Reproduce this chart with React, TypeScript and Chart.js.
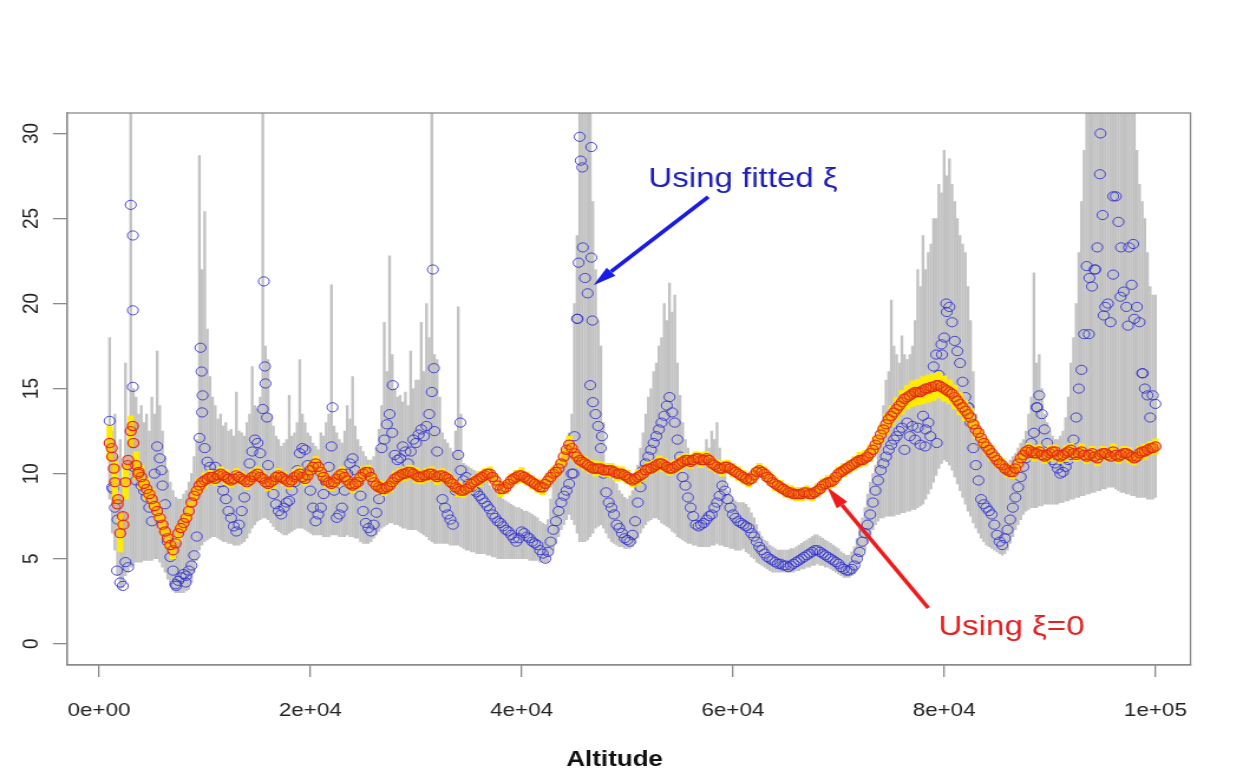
import React, { useEffect, useRef } from 'react';
import { Chart, registerables } from 'chart.js';

Chart.register(...registerables);

// Page size and the horizontal stretch applied to the rendered chart
const PAGE_W = 1243;
const PAGE_H = 772;
const STRETCH = 1.18;
const INNER_W = Math.round(PAGE_W / STRETCH);

// Altitude grid (m)
const altitude = [
  1000, 1500, 2000, 2500, 3000, 3500, 4000, 4500, 5000, 5500,
  6000, 6500, 7000, 7500, 8000, 8500, 9000, 9500, 10000, 10500,
  11000, 11500, 12000, 12500, 13000, 13500, 14000, 14500, 15000, 15500,
  16000, 16500, 17000, 17500, 18000, 18500, 19000, 19500, 20000, 20500,
  21000, 21500, 22000, 22500, 23000, 23500, 24000, 24500, 25000, 25500,
  26000, 26500, 27000, 27500, 28000, 28500, 29000, 29500, 30000, 30500,
  31000, 31500, 32000, 32500, 33000, 33500, 34000, 34500, 35000, 35500,
  36000, 36500, 37000, 37500, 38000, 38500, 39000, 39500, 40000, 40500,
  41000, 41500, 42000, 42500, 43000, 43500, 44000, 44500, 45000, 45500,
  46000, 46500, 47000, 47500, 48000, 48500, 49000, 49500, 50000, 50500,
  51000, 51500, 52000, 52500, 53000, 53500, 54000, 54500, 55000, 55500,
  56000, 56500, 57000, 57500, 58000, 58500, 59000, 59500, 60000, 60500,
  61000, 61500, 62000, 62500, 63000, 63500, 64000, 64500, 65000, 65500,
  66000, 66500, 67000, 67500, 68000, 68500, 69000, 69500, 70000, 70500,
  71000, 71500, 72000, 72500, 73000, 73500, 74000, 74500, 75000, 75500,
  76000, 76500, 77000, 77500, 78000, 78500, 79000, 79500, 80000, 80500,
  81000, 81500, 82000, 82500, 83000, 83500, 84000, 84500, 85000, 85500,
  86000, 86500, 87000, 87500, 88000, 88500, 89000, 89500, 90000, 90500,
  91000, 91500, 92000, 92500, 93000, 93500, 94000, 94500, 95000, 95500,
  96000, 96500, 97000, 97500, 98000, 98500, 99000, 99500, 100000,
];

// Altitudes half-way along the grid where estimates were also taken (m)
const altitudeMid = [
  1250, 1750, 2250, 2750, 3250, 3750, 4250, 4750, 5250, 5750,
  6250, 6750, 7250, 7750, 8250, 8750, 9250, 9750, 10250, 10750,
  11250, 11750, 12250, 12750, 13250, 13750, 14250, 14750, 15250, 15750,
  16250, 16750, 17250, 17750, 18250, 18750, 19250, 19750, 20250, 20750,
  21250, 21750, 22250, 22750, 23250, 23750, 24250, 24750, 25250, 25750,
  26250, 26750, 27250, 27750, 28250, 28750, 29250, 29750, 30250, 30750,
  31250, 31750, 32250, 32750, 33250, 33750, 34250, 34750, 35250, 35750,
  36250, 36750, 37250, 37750, 38250, 38750, 39250, 39750, 40250, 40750,
  41250, 41750, 42250, 42750, 43250, 43750, 44250, 44750, 45250, 45750,
  46250, 46750, 47250, 47750, 48250, 48750, 49250, 49750, 50250, 50750,
  51250, 51750, 52250, 52750, 53250, 53750, 54250, 54750, 55250, 55750,
  56250, 56750, 57250, 57750, 58250, 58750, 59250, 59750, 60250, 60750,
  61250, 61750, 62250, 62750, 63250, 63750, 64250, 64750, 65250, 65750,
  66250, 66750, 67250, 67750, 68250, 68750, 69250, 69750, 70250, 70750,
  71250, 71750, 72250, 72750, 73250, 73750, 74250, 74750, 75250, 75750,
  76250, 76750, 77250, 77750, 78250, 78750, 79250, 79750, 80250, 80750,
  81250, 81750, 82250, 82750, 83250, 83750, 84250, 84750, 85250, 85750,
  86250, 86750, 87250, 87750, 88250, 88750, 89250, 89750, 90250, 90750,
  91250, 91750, 92250, 92750, 93250, 93750, 94250, 94750, 95250, 95750,
  96250, 96750, 97250, 97750, 98250, 98750, 99250, 99750,
];

// Estimate with fitted shape parameter
const fittedXi = [
  13.1, 8.0, 3.6, 4.8, 25.8, 9.6, 9.3, 8.6, 7.2, 11.6,
  9.3, 6.0, 4.3, 3.7, 4.1, 4.3, 5.2, 12.1, 11.5, 10.4,
  10.4, 9.5, 8.5, 7.4, 6.6, 7.8, 9.5, 11.3, 11.8, 13.8,
  10.5, 8.8, 7.8, 8.0, 8.4, 9.5, 11.2, 11.4, 9.0, 7.2,
  8.0, 9.5, 11.6, 7.4, 8.0, 10.0, 10.9, 9.6, 7.8, 6.8,
  7.0, 8.5, 12.0, 13.5, 11.1, 10.9, 11.3, 11.3, 11.8, 12.6,
  12.8, 14.8, 11.3, 8.5, 7.6, 7.0, 11.1, 9.6, 9.4, 9.0,
  8.7, 8.3, 7.9, 7.4, 7.1, 6.7, 6.4, 6.0, 6.6, 6.3,
  6.0, 5.8, 5.3, 5.4, 6.7, 7.8, 8.7, 9.4, 12.2, 29.8,
  21.5, 15.2, 13.5, 11.5, 8.9, 8.0, 7.0, 6.5, 6.1, 6.4,
  8.3, 10.2, 11.0, 11.8, 12.6, 13.4, 14.5, 13.0, 11.0, 9.3,
  8.0, 7.0, 7.0, 7.3, 7.6, 8.3, 9.3, 8.5, 7.6, 7.2,
  7.0, 6.8, 6.3, 5.7, 5.3, 5.0, 4.8, 4.7, 4.6, 4.6,
  4.8, 5.0, 5.2, 5.4, 5.5, 5.3, 5.1, 4.9, 4.7, 4.4,
  4.3, 4.6, 5.4, 6.5, 7.6, 9.0, 10.2, 11.0, 11.7, 12.2,
  12.7, 13.0, 12.8, 12.7, 13.4, 13.0, 16.3, 15.8, 18.0, 19.8,
  17.8, 16.5, 14.5, 13.0, 10.5, 8.5, 8.0, 7.6, 6.4, 5.8,
  6.7, 8.0, 9.2, 10.4, 11.2, 12.4, 14.6, 12.6, 11.1, 10.6,
  10.0, 10.4, 11.1, 13.3, 16.1, 22.2, 21.0, 23.3, 25.2, 20.0,
  21.7, 24.8, 20.7, 23.3, 19.1, 18.9, 15.0, 13.3, 14.1,
];
const fittedXiMid = [
  9.2, 7.3, 3.4, 4.5, 10.4, 10.0, 9.0, 8.0, 10.0, 10.9,
  8.2, 5.1, 3.5, 3.9, 4.0, 4.6, 6.3, 13.6, 10.7, 10.0,
  9.8, 9.0, 7.8, 6.9, 7.0, 8.6, 10.6, 12.0, 11.2, 15.3,
  9.5, 8.2, 7.6, 8.3, 9.0, 10.2, 11.5, 10.5, 8.0, 7.6,
  8.8, 10.4, 9.0, 7.6, 9.0, 10.6, 10.2, 8.7, 7.1, 6.6,
  7.7, 11.5, 12.9, 12.4, 10.8, 11.6, 10.6, 12.0, 12.3, 12.2,
  13.5, 12.5, 9.8, 8.0, 7.3, 9.0, 10.2, 9.8, 9.2, 8.9,
  8.5, 8.1, 7.6, 7.2, 6.9, 6.6, 6.2, 6.2, 6.5, 6.2,
  5.9, 5.5, 5.0, 6.0, 7.2, 8.3, 9.0, 10.0, 19.1, 28.0,
  20.6, 14.2, 12.8, 10.0, 8.3, 7.6, 6.8, 6.2, 6.0, 7.2,
  9.2, 10.6, 11.4, 12.2, 13.0, 14.0, 13.6, 12.0, 9.8, 8.6,
  7.5, 6.9, 7.1, 7.5, 8.0, 8.7, 9.0, 8.0, 7.4, 7.1,
  6.9, 6.5, 6.0, 5.5, 5.1, 4.9, 4.7, 4.6, 4.5, 4.7,
  4.9, 5.1, 5.3, 5.5, 5.4, 5.2, 5.0, 4.8, 4.5, 4.3,
  4.4, 5.0, 6.0, 7.0, 8.3, 9.6, 10.6, 11.4, 12.0, 12.5,
  11.4, 12.2, 12.0, 11.7, 12.6, 15.4, 17.0, 17.6, 19.5, 18.9,
  17.2, 15.4, 13.9, 11.5, 9.6, 8.2, 7.8, 7.0, 6.0, 6.2,
  7.3, 8.6, 9.8, 10.9, 11.8, 13.9, 13.5, 11.8, 10.8, 10.3,
  10.1, 10.8, 12.0, 15.0, 18.2, 21.5, 22.0, 27.6, 19.8, 18.9,
  26.3, 23.3, 19.8, 21.1, 19.8, 15.9, 14.6, 14.6,
];

// Further fitted-shape estimates scattered around the tall peaks
const fittedExtraAlt = [
  1300, 1700, 3200, 3200, 3200, 5900, 7300, 8200, 9600, 9700,
  9800, 15600, 15700, 15900, 22100, 27800, 31600, 31700, 34200, 44900,
  45300, 45400, 45600, 45800, 46600, 46600, 46700, 47600, 78200, 78700,
  79300, 79800, 80200, 82300, 88800, 93700, 94300, 94800, 95100, 96000,
  96700, 97400, 97900, 98800,
];
const fittedExtraVal = [
  9.1, 4.3, 24.0, 19.6, 15.1, 10.2, 3.4, 3.6, 17.4, 16.0,
  14.6, 21.3, 16.3, 13.3, 13.9, 15.2, 22.0, 16.2, 13.0, 10.0,
  19.1, 22.4, 28.4, 23.3, 29.2, 22.7, 19.0, 12.2, 11.6, 12.2,
  11.8, 17.0, 20.0, 13.9, 13.9, 18.2, 22.0, 30.0, 19.3, 26.3,
  20.4, 18.7, 23.5, 15.9,
];

// Interval bounds for the fitted-shape estimate
const fittedLower = [
  8.5, 5.5, 3.2, 4.0, 4.5, 4.8, 4.8, 4.9, 4.9, 5.0,
  4.5, 3.8, 3.1, 3.0, 3.0, 3.2, 4.2, 5.5, 6.0, 6.2,
  6.3, 6.1, 6.0, 5.9, 5.8, 5.9, 6.2, 6.8, 7.2, 7.4,
  7.3, 6.9, 6.6, 6.4, 6.5, 6.7, 6.8, 6.7, 6.5, 6.4,
  6.4, 6.3, 6.4, 6.4, 6.3, 6.4, 6.3, 6.2, 5.9, 5.9,
  6.2, 6.6, 6.9, 7.1, 7.0, 6.9, 6.8, 6.7, 6.7, 6.5,
  6.3, 6.0, 5.9, 5.9, 5.9, 5.8, 5.8, 5.6, 5.5, 5.4,
  5.3, 5.3, 5.2, 5.1, 5.0, 5.0, 5.0, 5.0, 5.0, 5.0,
  4.9, 4.9, 4.8, 4.8, 5.5, 6.3, 7.0, 7.6, 7.0, 6.0,
  6.0, 6.3, 6.8, 7.0, 6.5, 6.0, 5.8, 5.7, 5.6, 5.7,
  6.2, 6.8, 7.2, 7.4, 7.3, 7.0, 6.8, 6.5, 6.2, 6.0,
  5.9, 5.8, 5.7, 5.7, 5.8, 5.9, 5.8, 5.7, 5.6, 5.5,
  5.6, 5.3, 5.0, 4.7, 4.5, 4.3, 4.2, 4.2, 4.2, 4.2,
  4.3, 4.4, 4.5, 4.6, 4.7, 4.6, 4.5, 4.3, 4.1, 3.9,
  3.9, 4.1, 4.7, 5.5, 6.3, 7.0, 7.4, 7.5, 7.5, 7.6,
  7.7, 7.8, 7.9, 8.0, 8.2, 8.8, 9.5, 10.3, 10.8, 10.5,
  9.8, 9.0, 8.2, 7.5, 6.8, 6.2, 5.8, 5.6, 5.4, 5.2,
  5.5, 6.3, 7.0, 7.6, 7.9, 8.0, 8.1, 8.2, 8.2, 8.2,
  8.3, 8.4, 8.5, 8.6, 8.7, 8.8, 8.9, 9.0, 9.1, 9.2,
  9.2, 9.0, 8.9, 8.8, 8.7, 8.6, 8.6, 8.5, 8.6,
];
const fittedUpper = [
  18.0, 13.5, 12.0, 16.5, 31.5, 14.5, 14.0, 13.5, 14.5, 17.2,
  12.5, 10.2, 9.0, 8.5, 8.8, 9.5, 11.0, 28.7, 25.4, 15.7,
  14.0, 13.5, 13.0, 12.6, 14.8, 12.4, 13.0, 16.3, 13.8, 31.5,
  16.7, 12.8, 12.0, 11.8, 14.6, 12.4, 16.7, 13.0, 12.2, 11.6,
  12.4, 13.0, 21.1, 12.4, 11.8, 14.0, 15.7, 12.0, 11.3, 10.8,
  11.0, 12.6, 18.9, 22.8, 15.0, 14.6, 14.8, 17.2, 15.5, 18.9,
  20.0, 31.5, 16.7, 12.4, 11.8, 11.3, 19.8, 10.6, 10.4, 10.2,
  10.0, 9.6, 9.3, 9.0, 8.7, 8.4, 8.2, 8.0, 7.9, 7.8,
  7.6, 7.4, 7.1, 7.3, 9.5, 10.2, 11.5, 12.4, 20.0, 31.5,
  31.5, 31.5, 22.0, 17.5, 10.5, 9.8, 9.4, 8.8, 8.5, 9.0,
  10.5, 12.4, 14.5, 16.0, 17.5, 20.0, 21.2, 20.5, 14.6, 12.0,
  11.0, 10.5, 10.8, 12.0, 12.5, 13.0, 10.5, 9.0, 8.5, 8.3,
  8.3, 8.0, 7.4, 6.6, 6.1, 5.8, 5.6, 5.5, 5.5, 5.6,
  5.7, 5.9, 6.1, 6.3, 6.4, 6.2, 6.0, 5.8, 5.6, 5.3,
  5.2, 5.7, 6.8, 8.0, 9.5, 10.5, 12.5, 15.5, 20.2, 17.0,
  18.1, 16.7, 17.5, 22.0, 24.0, 23.0, 25.0, 27.0, 29.0, 28.5,
  26.0, 24.0, 23.0, 19.0, 13.5, 12.5, 11.8, 11.0, 10.5, 10.0,
  10.5, 11.0, 11.5, 12.0, 13.5, 21.8, 17.0, 13.5, 12.5, 12.0,
  12.2, 13.3, 16.5, 20.0, 26.0, 31.5, 31.5, 31.5, 31.5, 31.5,
  31.5, 31.5, 31.5, 31.5, 31.5, 27.0, 25.0, 21.0, 20.5,
];
const fittedLowerMid = [
  6.5, 4.0, 3.3, 4.2, 4.6, 4.8, 4.9, 4.9, 5.0, 4.8,
  4.2, 3.4, 3.0, 3.0, 3.1, 3.6, 4.9, 5.8, 6.1, 6.3,
  6.2, 6.0, 5.9, 5.8, 5.8, 6.0, 6.5, 7.0, 7.3, 7.4,
  7.1, 6.7, 6.5, 6.4, 6.6, 6.8, 6.8, 6.6, 6.4, 6.4,
  6.3, 6.3, 6.4, 6.3, 6.3, 6.3, 6.2, 6.0, 5.9, 6.0,
  6.4, 6.8, 7.0, 7.1, 7.0, 6.8, 6.7, 6.7, 6.6, 6.4,
  6.1, 5.9, 5.9, 5.9, 5.8, 5.8, 5.7, 5.5, 5.4, 5.3,
  5.3, 5.2, 5.1, 5.0, 5.0, 5.0, 5.0, 5.0, 5.0, 4.9,
  4.9, 4.8, 4.8, 5.2, 5.9, 6.7, 7.3, 7.3, 6.5, 6.0,
  6.1, 6.5, 6.9, 6.8, 6.2, 5.9, 5.7, 5.6, 5.6, 5.9,
  6.5, 7.0, 7.3, 7.4, 7.1, 6.9, 6.6, 6.3, 6.1, 5.9,
  5.8, 5.7, 5.7, 5.7, 5.8, 5.8, 5.7, 5.6, 5.5, 5.5,
  5.4, 5.1, 4.8, 4.6, 4.4, 4.2, 4.2, 4.2, 4.2, 4.2,
  4.3, 4.4, 4.5, 4.6, 4.6, 4.5, 4.4, 4.2, 4.0, 3.9,
  4.0, 4.4, 5.1, 5.9, 6.7, 7.2, 7.4, 7.5, 7.5, 7.6,
  7.7, 7.8, 7.9, 8.1, 8.5, 9.1, 9.9, 10.6, 10.7, 10.2,
  9.4, 8.6, 7.8, 7.1, 6.5, 6.0, 5.7, 5.5, 5.3, 5.3,
  5.9, 6.7, 7.3, 7.8, 8.0, 8.0, 8.1, 8.2, 8.2, 8.2,
  8.3, 8.4, 8.5, 8.6, 8.7, 8.8, 8.9, 9.0, 9.1, 9.2,
  9.1, 8.9, 8.8, 8.7, 8.6, 8.6, 8.5, 8.5,
];
const fittedUpperMid = [
  12.5, 11.0, 9.5, 12.0, 15.0, 13.5, 13.0, 12.5, 13.5, 14.0,
  11.0, 9.5, 8.6, 8.5, 9.0, 10.0, 12.0, 22.0, 18.5, 14.5,
  13.2, 12.8, 12.5, 12.2, 12.5, 12.2, 13.5, 14.0, 14.5, 17.5,
  13.5, 12.2, 11.6, 12.0, 12.2, 13.0, 13.5, 12.4, 11.8, 11.4,
  12.2, 13.5, 12.8, 12.0, 12.5, 13.2, 12.8, 11.6, 11.0, 10.8,
  11.5, 14.0, 16.0, 17.0, 14.5, 14.2, 14.0, 15.0, 15.5, 16.0,
  18.0, 17.0, 14.5, 12.0, 11.5, 12.5, 13.5, 10.5, 10.3, 10.1,
  9.8, 9.5, 9.1, 8.8, 8.5, 8.3, 8.1, 8.0, 7.8, 7.7,
  7.5, 7.2, 7.0, 8.5, 9.8, 10.8, 12.0, 13.5, 24.0, 31.5,
  31.5, 26.0, 19.0, 13.0, 10.0, 9.6, 9.0, 8.6, 8.7, 9.8,
  11.5, 13.5, 15.0, 16.5, 18.0, 19.0, 19.5, 16.5, 13.0, 11.5,
  10.8, 10.6, 11.0, 11.5, 12.0, 11.5, 10.0, 8.8, 8.4, 8.3,
  8.2, 7.7, 7.0, 6.3, 6.0, 5.7, 5.5, 5.5, 5.5, 5.6,
  5.8, 6.0, 6.2, 6.4, 6.3, 6.1, 5.9, 5.7, 5.4, 5.2,
  5.4, 6.2, 7.4, 8.8, 10.0, 11.5, 14.0, 16.0, 17.5, 16.5,
  17.0, 17.0, 19.0, 21.0, 22.0, 23.5, 25.0, 26.5, 27.5, 27.0,
  25.0, 23.5, 21.0, 16.0, 13.0, 12.2, 11.5, 10.8, 10.2, 10.2,
  10.8, 11.2, 11.8, 12.5, 14.5, 16.5, 15.0, 13.0, 12.2, 12.0,
  12.5, 14.5, 18.0, 23.0, 29.0, 31.5, 31.5, 31.5, 31.5, 31.5,
  31.5, 31.5, 31.5, 31.5, 29.0, 26.0, 23.0, 20.5,
];

// Estimate with the shape parameter fixed at zero
const zeroXi = [
  11.8, 9.5, 6.5, 9.5, 12.5, 10.5, 9.8, 9.1, 8.5, 7.8,
  7.0, 6.2, 5.5, 6.5, 7.1, 7.8, 8.7, 9.3, 9.6, 9.8,
  9.7, 10.0, 9.8, 9.6, 9.9, 9.7, 9.5, 9.8, 10.0, 9.7,
  9.4, 9.6, 9.9, 9.7, 9.5, 9.8, 10.0, 9.7, 10.2, 10.6,
  10.1, 9.6, 9.4, 9.7, 10.0, 9.6, 9.3, 9.5, 10.0, 10.1,
  9.5, 9.2, 9.1, 9.3, 9.7, 9.9, 10.0, 10.1, 9.9, 9.8,
  9.9, 10.0, 9.8, 9.9, 9.7, 9.4, 9.1, 9.0, 9.2, 9.5,
  9.7, 9.9, 10.0, 9.6, 9.1, 9.2, 9.6, 9.8, 9.9, 9.7,
  9.5, 9.3, 9.2, 9.6, 10.0, 10.3, 11.0, 11.7, 11.2, 10.8,
  10.6, 10.4, 10.3, 10.3, 10.2, 10.2, 10.0, 10.0, 9.8, 9.6,
  9.8, 10.0, 10.3, 10.4, 10.6, 10.5, 10.3, 10.4, 10.6, 10.8,
  10.7, 10.9, 10.8, 10.9, 10.6, 10.4, 10.3, 10.4, 10.2, 10.0,
  9.8, 9.6, 9.9, 10.2, 10.0, 9.7, 9.4, 9.2, 9.0, 8.9,
  8.8, 8.8, 8.9, 8.8, 9.0, 9.3, 9.5, 9.6, 10.0, 10.2,
  10.4, 10.6, 10.8, 10.9, 11.2, 11.7, 12.3, 12.9, 13.4, 13.8,
  14.2, 14.5, 14.7, 14.8, 14.9, 15.0, 15.1, 15.2, 15.0, 14.8,
  14.5, 14.1, 13.7, 13.3, 12.6, 12.1, 11.6, 11.2, 10.8, 10.5,
  10.2, 10.1, 10.6, 11.1, 11.4, 11.2, 11.3, 11.0, 11.2, 11.3,
  11.0, 11.2, 11.4, 11.1, 11.3, 11.0, 11.2, 10.9, 11.2, 11.1,
  11.3, 11.0, 11.2, 11.1, 10.9, 11.2, 11.3, 11.5, 11.6,
];
const zeroXiMid = [
  11.0, 8.2, 7.5, 10.8, 11.8, 10.1, 9.4, 8.8, 8.1, 7.4,
  6.6, 5.8, 5.9, 6.8, 7.4, 8.3, 9.0, 9.5, 9.7, 9.8,
  9.9, 9.9, 9.7, 9.7, 9.8, 9.6, 9.6, 9.9, 9.8, 9.5,
  9.5, 9.8, 9.8, 9.6, 9.6, 9.9, 9.8, 9.9, 10.4, 10.4,
  9.8, 9.5, 9.5, 9.9, 9.8, 9.4, 9.4, 9.8, 10.1, 9.8,
  9.3, 9.1, 9.2, 9.5, 9.8, 10.0, 10.1, 10.0, 9.8, 9.9,
  10.0, 9.9, 9.9, 9.8, 9.5, 9.2, 9.0, 9.1, 9.4, 9.6,
  9.8, 10.0, 9.8, 9.3, 9.1, 9.4, 9.7, 9.9, 9.8, 9.6,
  9.4, 9.2, 9.4, 9.8, 10.1, 10.6, 11.4, 11.5, 11.0, 10.7,
  10.5, 10.3, 10.3, 10.2, 10.2, 10.1, 10.0, 9.9, 9.7, 9.7,
  9.9, 10.2, 10.3, 10.5, 10.6, 10.4, 10.3, 10.5, 10.7, 10.8,
  10.8, 10.9, 10.8, 10.8, 10.5, 10.3, 10.4, 10.3, 10.1, 9.9,
  9.7, 9.7, 10.1, 10.1, 9.8, 9.5, 9.3, 9.1, 8.9, 8.8,
  8.8, 8.9, 8.8, 8.9, 9.1, 9.4, 9.5, 9.8, 10.1, 10.3,
  10.5, 10.7, 10.8, 11.0, 11.4, 12.0, 12.6, 13.2, 13.6, 14.0,
  14.4, 14.6, 14.8, 14.8, 15.0, 15.1, 15.2, 15.1, 14.9, 14.7,
  14.3, 13.9, 13.5, 12.9, 12.4, 11.8, 11.4, 11.0, 10.6, 10.3,
  10.1, 10.3, 10.9, 11.3, 11.3, 11.2, 11.1, 11.1, 11.3, 11.1,
  11.1, 11.3, 11.2, 11.2, 11.1, 11.1, 11.0, 11.1, 11.2, 11.0,
  11.1, 11.1, 11.2, 11.0, 11.0, 11.3, 11.4, 11.5,
];

// Further zero-shape estimates near the ground
const zeroExtraAlt = [1200, 1400, 1800, 2300, 2700, 3200, 3700];
const zeroExtraVal = [11.5, 10.3, 8.5, 7.0, 10.5, 12.8, 10.0];

// Half-width of the interval around the zero-shape estimate
const zeroHalfWidth = [
  1.0, 1.2, 1.1, 1.0, 0.9, 0.8, 0.7, 0.6, 0.6, 0.5,
  0.5, 0.5, 0.5, 0.5, 0.5, 0.5, 0.5, 0.45, 0.45, 0.4,
  0.4, 0.4, 0.45, 0.4, 0.4, 0.4, 0.45, 0.4, 0.4, 0.4,
  0.4, 0.45, 0.4, 0.4, 0.4, 0.45, 0.4, 0.4, 0.45, 0.4,
  0.4, 0.4, 0.4, 0.45, 0.4, 0.4, 0.4, 0.45, 0.4, 0.4,
  0.45, 0.4, 0.4, 0.4, 0.45, 0.4, 0.4, 0.4, 0.45, 0.4,
  0.4, 0.4, 0.45, 0.4, 0.4, 0.4, 0.45, 0.4, 0.4, 0.4,
  0.45, 0.4, 0.4, 0.4, 0.45, 0.4, 0.4, 0.4, 0.45, 0.4,
  0.4, 0.4, 0.45, 0.4, 0.4, 0.45, 0.45, 0.5, 0.45, 0.4,
  0.4, 0.4, 0.45, 0.4, 0.4, 0.4, 0.45, 0.4, 0.4, 0.4,
  0.45, 0.4, 0.4, 0.4, 0.45, 0.4, 0.4, 0.4, 0.45, 0.4,
  0.4, 0.4, 0.45, 0.4, 0.4, 0.4, 0.45, 0.4, 0.4, 0.4,
  0.4, 0.4, 0.4, 0.4, 0.4, 0.4, 0.4, 0.4, 0.4, 0.4,
  0.4, 0.4, 0.4, 0.4, 0.4, 0.4, 0.4, 0.4, 0.4, 0.4,
  0.4, 0.4, 0.45, 0.45, 0.5, 0.5, 0.55, 0.6, 0.6, 0.65,
  0.7, 0.7, 0.75, 0.75, 0.8, 0.8, 0.8, 0.75, 0.75, 0.7,
  0.7, 0.65, 0.6, 0.55, 0.5, 0.5, 0.45, 0.45, 0.4, 0.4,
  0.4, 0.4, 0.45, 0.4, 0.4, 0.45, 0.4, 0.4, 0.45, 0.4,
  0.4, 0.45, 0.4, 0.4, 0.45, 0.4, 0.4, 0.45, 0.4, 0.4,
  0.45, 0.4, 0.4, 0.45, 0.4, 0.4, 0.45, 0.4, 0.45,
];

// Axis ticks
const xTickValues = [0, 20000, 40000, 60000, 80000, 100000];
const xTickLabels = ['0e+00', '2e+04', '4e+04', '6e+04', '8e+04', '1e+05'];
const yTickValues = [0, 5, 10, 15, 20, 25, 30];
const yTickLabels = ['0', '5', '10', '15', '20', '25', '30'];

// Axis ranges
const X_MIN = -3030;
const X_MAX = 103320;
const Y_MIN = -1.25;
const Y_MAX = 31.2;

// Annotations: text anchors and arrow ends in data units
const fittedNote = { text: 'Using fitted \u03be', x: 52000, y: 26.84 };
const fittedArrow = { x0: 57670, y0: 26.27, x1: 46810, y1: 21.08 };
const zeroNote = { text: 'Using \u03be=0', x: 79450, y: 0.52 };
const zeroArrow = { x0: 78500, y0: 2.1, x1: 68910, y1: 9.21 };

const FONT = '"Liberation Sans", Arial, sans-serif';
const FRAME = '#8a8a8a';

function drawArrow(
  ctx: CanvasRenderingContext2D,
  x0: number, y0: number, x1: number, y1: number,
  color: string, width: number, headLen: number, headHalf: number,
) {
  const ang = Math.atan2(y1 - y0, x1 - x0);
  const bx = x1 - headLen * Math.cos(ang);
  const by = y1 - headLen * Math.sin(ang);
  ctx.strokeStyle = color;
  ctx.lineWidth = width;
  ctx.lineCap = 'butt';
  ctx.beginPath();
  ctx.moveTo(x0, y0);
  ctx.lineTo(bx, by);
  ctx.stroke();
  ctx.fillStyle = color;
  ctx.beginPath();
  ctx.moveTo(x1, y1);
  ctx.lineTo(bx + headHalf * Math.sin(ang), by - headHalf * Math.cos(ang));
  ctx.lineTo(bx - headHalf * Math.sin(ang), by + headHalf * Math.cos(ang));
  ctx.closePath();
  ctx.fill();
}

// Frame around the plotting region, arrows, notes and the axis title
const decorations = {
  id: 'decorations',
  afterDraw(chart: any) {
    const { ctx, chartArea: a, scales } = chart;
    const sx = scales.x;
    const sy = scales.y;
    ctx.save();
    ctx.strokeStyle = FRAME;
    ctx.lineWidth = 1.3;
    ctx.strokeRect(a.left, a.top, a.right - a.left, a.bottom - a.top);

    drawArrow(
      ctx,
      sx.getPixelForValue(fittedArrow.x0), sy.getPixelForValue(fittedArrow.y0),
      sx.getPixelForValue(fittedArrow.x1), sy.getPixelForValue(fittedArrow.y1),
      '#1a1ae6', 3.6, 20, 5.5,
    );
    drawArrow(
      ctx,
      sx.getPixelForValue(zeroArrow.x0), sy.getPixelForValue(zeroArrow.y0),
      sx.getPixelForValue(zeroArrow.x1), sy.getPixelForValue(zeroArrow.y1),
      '#ee1c1c', 3.6, 22, 5.5,
    );

    ctx.font = `28px ${FONT}`;
    ctx.textAlign = 'left';
    ctx.textBaseline = 'alphabetic';
    ctx.fillStyle = '#1e1eb8';
    ctx.fillText(fittedNote.text, sx.getPixelForValue(fittedNote.x), sy.getPixelForValue(fittedNote.y));
    ctx.fillStyle = '#e61e1e';
    ctx.fillText(zeroNote.text, sx.getPixelForValue(zeroNote.x), sy.getPixelForValue(zeroNote.y));

    ctx.font = `bold 22px ${FONT}`;
    ctx.textAlign = 'center';
    ctx.fillStyle = '#111';
    ctx.fillText('Altitude', (a.left + a.right) / 2 - 12, 766);
    ctx.restore();
  },
};

export default function App() {
  const canvasRef = useRef<HTMLCanvasElement | null>(null);

  useEffect(() => {
    const canvas = canvasRef.current;
    if (!canvas) return;

    const grayBars = altitude
      .map((a, i) => ({ x: a, y: [fittedLower[i], fittedUpper[i]] }))
      .concat(altitudeMid.map((a, i) => ({ x: a, y: [fittedLowerMid[i], fittedUpperMid[i]] })));
    const bluePts = altitude
      .map((a, i) => ({ x: a, y: fittedXi[i] }))
      .concat(altitudeMid.map((a, i) => ({ x: a, y: fittedXiMid[i] })))
      .concat(fittedExtraAlt.map((a, i) => ({ x: a, y: fittedExtraVal[i] })));
    const yellowBars = altitude.map((a, i) => ({
      x: a,
      y: [zeroXi[i] - zeroHalfWidth[i], zeroXi[i] + zeroHalfWidth[i]],
    }));
    const redPts = altitude
      .map((a, i) => ({ x: a, y: zeroXi[i] }))
      .concat(altitudeMid.map((a, i) => ({ x: a, y: zeroXiMid[i] })))
      .concat(zeroExtraAlt.map((a, i) => ({ x: a, y: zeroExtraVal[i] })));

    const tickFont = { family: FONT, size: 19 };

    const chart = new Chart(canvas, {
      type: 'scatter',
      data: {
        datasets: [
          {
            type: 'bar',
            label: 'fitted interval',
            data: grayBars as any,
            backgroundColor: '#c2c2c2',
            barThickness: 1.7,
            grouped: false,
            order: 4,
          } as any,
          {
            type: 'scatter',
            label: 'Using fitted \u03be',
            data: bluePts,
            pointStyle: 'circle',
            pointRadius: 4.6,
            borderColor: 'rgba(45,45,210,0.85)',
            backgroundColor: 'rgba(0,0,0,0)',
            borderWidth: 1,
            order: 3,
          },
          {
            type: 'bar',
            label: 'zero interval',
            data: yellowBars as any,
            backgroundColor: '#ffec00',
            barThickness: 4.6,
            grouped: false,
            order: 2,
          } as any,
          {
            type: 'scatter',
            label: 'Using \u03be=0',
            data: redPts,
            pointStyle: 'circle',
            pointRadius: 4.6,
            borderColor: '#e42a14',
            backgroundColor: 'rgba(240,110,20,0.25)',
            borderWidth: 1.2,
            order: 1,
          },
        ],
      },
      options: {
        responsive: false,
        animation: false,
        devicePixelRatio: 1,
        events: [],
        layout: { padding: { left: 0, right: INNER_W - 1008.5, top: 113, bottom: 0 } },
        plugins: {
          legend: { display: false },
          tooltip: { enabled: false },
        },
        scales: {
          x: {
            type: 'linear',
            min: X_MIN,
            max: X_MAX,
            offset: false,
            afterBuildTicks: (axis: any) => {
              axis.ticks = xTickValues.map((value) => ({ value }));
            },
            afterFit: (axis: any) => {
              axis.height = PAGE_H - 665;
            },
            grid: {
              drawOnChartArea: false,
              drawTicks: true,
              tickLength: 12,
              color: FRAME,
              lineWidth: 1.3,
              offset: false,
            },
            border: { display: true, color: FRAME, width: 1.3 },
            ticks: {
              autoSkip: false,
              maxRotation: 0,
              minRotation: 0,
              padding: 22,
              color: '#222',
              font: tickFont,
              callback: (_v: any, i: number) => xTickLabels[i],
            },
          },
          y: {
            type: 'linear',
            min: Y_MIN,
            max: Y_MAX,
            afterBuildTicks: (axis: any) => {
              axis.ticks = yTickValues.map((value) => ({ value }));
            },
            afterFit: (axis: any) => {
              axis.width = 56.8;
            },
            grid: {
              drawOnChartArea: false,
              drawTicks: true,
              tickLength: 12,
              color: FRAME,
              lineWidth: 1.3,
            },
            border: { display: true, color: FRAME, width: 1.3 },
            ticks: {
              autoSkip: false,
              minRotation: 90,
              maxRotation: 90,
              crossAlign: 'center',
              padding: 7,
              color: '#222',
              font: tickFont,
              callback: (_v: any, i: number) => yTickLabels[i],
            },
          },
        },
      },
      plugins: [decorations],
    } as any);

    return () => chart.destroy();
  }, []);

  return (
    <div
      style={{
        position: 'absolute',
        left: 0,
        top: 0,
        width: PAGE_W,
        height: PAGE_H,
        overflow: 'hidden',
        background: '#fff',
      }}
    >
      <div
        style={{
          width: INNER_W,
          height: PAGE_H,
          transform: `scaleX(${PAGE_W / INNER_W})`,
          transformOrigin: '0 0',
        }}
      >
        <canvas ref={canvasRef} width={INNER_W} height={PAGE_H} style={{ display: 'block' }} />
      </div>
    </div>
  );
}
